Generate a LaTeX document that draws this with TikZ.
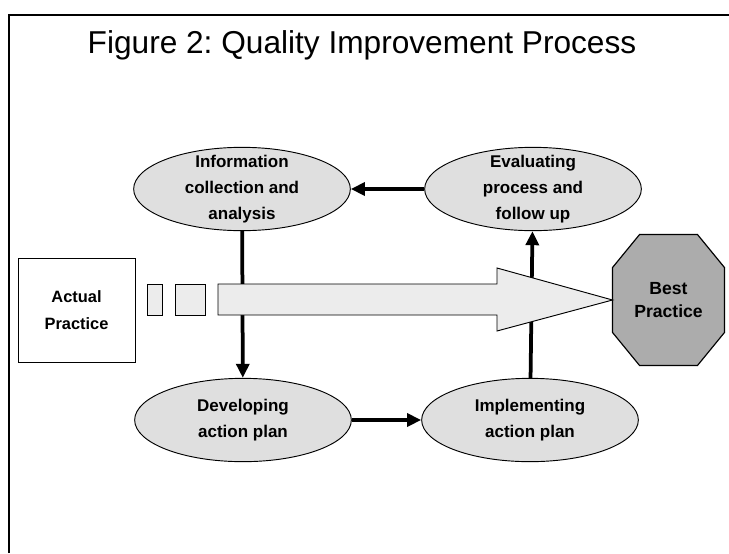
\documentclass[tikz,border=0pt]{standalone}
\usepackage{fontspec}
\setmainfont{Liberation Sans}
\usetikzlibrary{arrows.meta,shapes.geometric,calc,backgrounds}
\frenchspacing

\begin{document}
\begin{tikzpicture}[
    x=0.03cm, y=-0.03cm,
    stepnode/.style={draw, ellipse, line width=0.8pt, fill=gray!25, minimum width=6.5cm, minimum height=2.5cm,
        inner xsep=0pt, inner ysep=-4pt, align=center, font=\fontsize{14.5}{22}\selectfont\bfseries},
    boxnode/.style={draw, line width=0.8pt, fill=white, minimum width=3.51cm, minimum height=3.12cm,
        align=center, font=\fontsize{14}{23}\selectfont\bfseries},
    chip/.style={draw, line width=0.8pt, fill=gray!15, minimum height=0.93cm, inner sep=0pt},
    conn/.style={line width=3.2pt, -{Triangle[length=12pt,width=11pt]}},
    thick
    ]

    \useasboundingbox (0,0) rectangle (729,553);
    \draw[line width=1.5pt] (9,553) -- (9,15) -- (729,15);

    \node[font=\fontsize{27}{32}\selectfont] (title) at (362,45) {Figure 2: Quality Improvement Process};

    \node[stepnode] (info) at (242,189) {Information\\collection and\\analysis};
    \node[stepnode] (eval) at (533,189) {Evaluating\\process and\\follow up};
    \node[stepnode] (dev) at (243,420) {Developing\\action plan};
    \node[stepnode] (impl) at (530,420) {Implementing\\action plan};

    \node[boxnode] (actual) at (76.5,310) {Actual\\Practice};
    \node[chip, minimum width=0.45cm] (sq1) at (154.5,300) {};
    \node[chip, minimum width=0.9cm] (sq2) at (190,300) {};

    \node[minimum width=3.33cm, minimum height=3.9cm, align=center,
        font=\fontsize{15}{19}\selectfont\bfseries] (best) at (668.5,300) {Best\\Practice};
    \begin{scope}[on background layer]
        \filldraw[fill=gray!65, line width=1pt]
            ($(best.north west)+(27,0)$) -- ($(best.north east)+(-27,0)$)
            -- ($(best.north east)+(0,33)$) -- ($(best.south east)+(0,-33)$)
            -- ($(best.south east)+(-27,0)$) -- ($(best.south west)+(27,0)$)
            -- ($(best.south west)+(0,-33)$) -- ($(best.north west)+(0,33)$) -- cycle;
    \end{scope}

    \draw[conn] (eval) -- (info);
    \draw[conn] (info) -- (dev);
    \draw[conn] (dev) -- (impl);
    \draw[conn] (impl) -- (eval);

    \filldraw[fill=gray!15, line width=0.8pt] (218,284) -- (497,284) -- (497,268) -- (best.west)
        -- (497,331) -- (497,315) -- (218,315) -- cycle;

\end{tikzpicture}
\end{document}
